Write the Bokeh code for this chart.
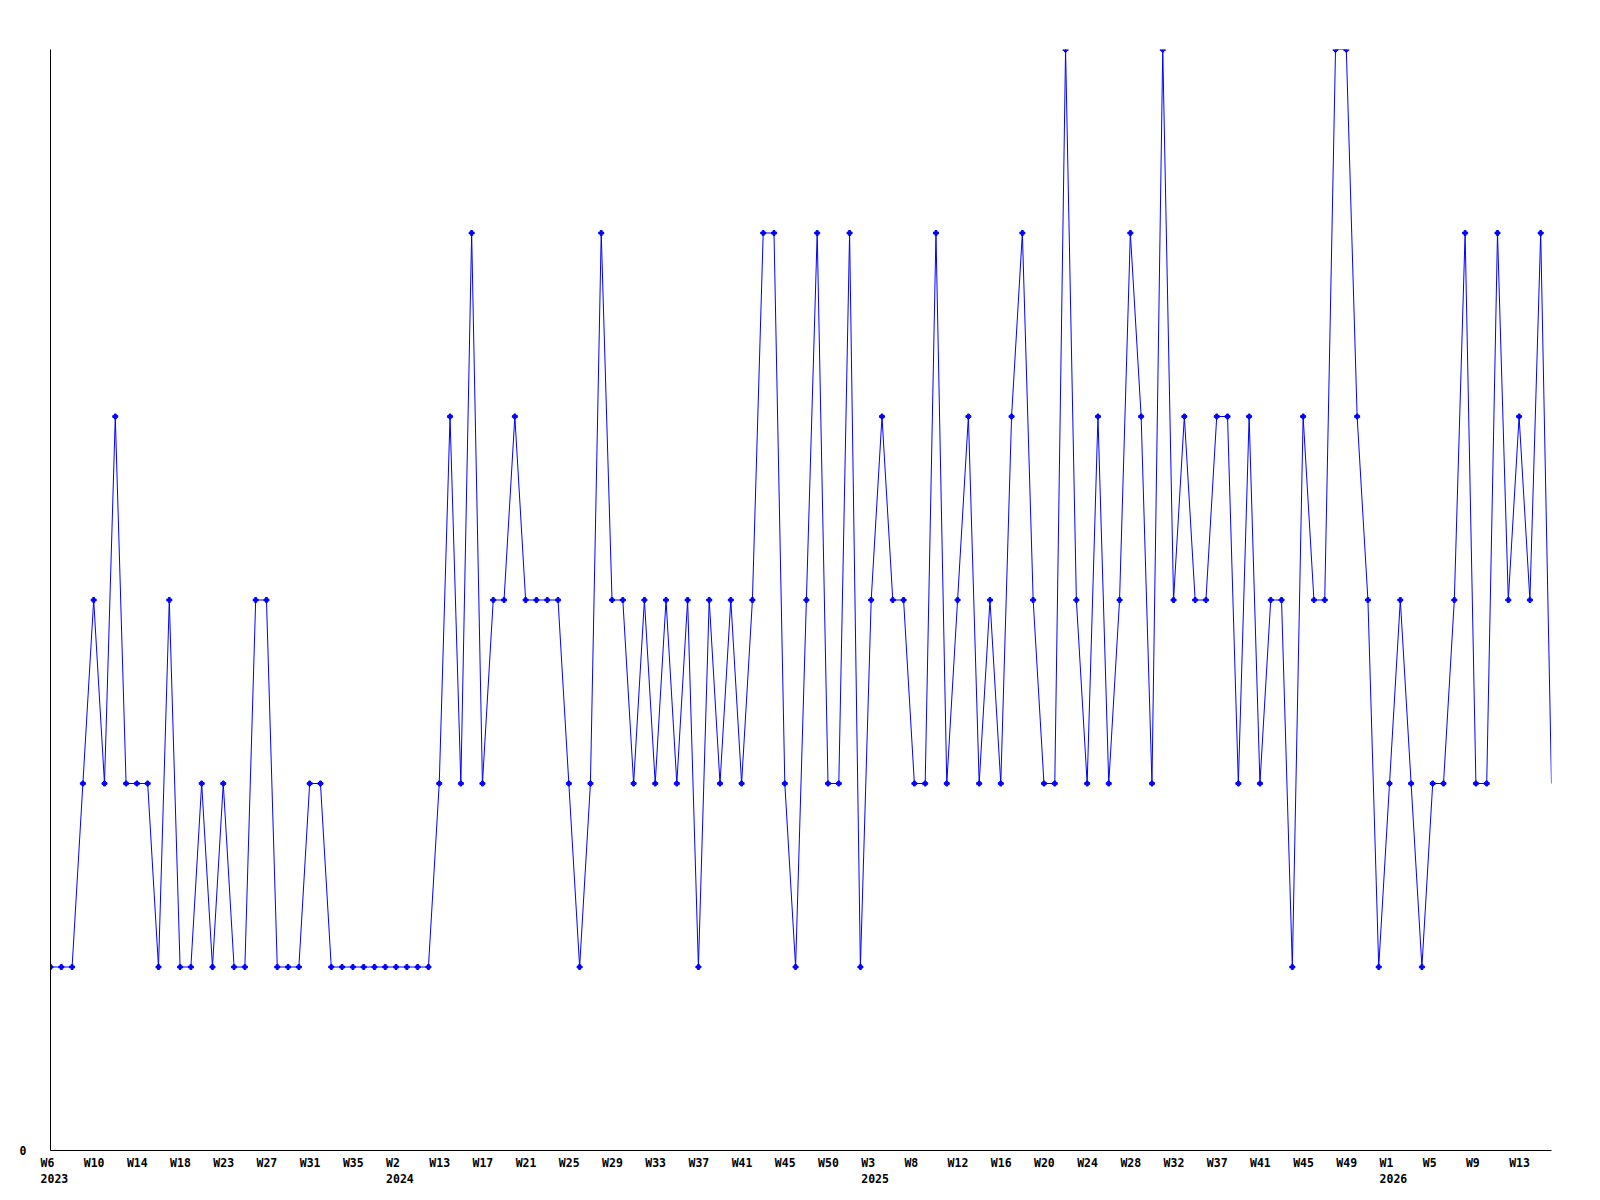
from bokeh.plotting import figure
from bokeh.models import Range1d, FixedTicker
from bokeh.embed import file_html
from bokeh.resources import INLINE

# weekly values (2023 W6 ... 2026 W16), 140 points
values = [
    1, 1, 1, 2, 3, 2, 4, 2, 2, 2,
    1, 3, 1, 1, 2, 1, 2, 1, 1, 3,
    3, 1, 1, 1, 2, 2, 1, 1, 1, 1,
    1, 1, 1, 1, 1, 1, 2, 4, 2, 5,
    2, 3, 3, 4, 3, 3, 3, 3, 2, 1,
    2, 5, 3, 3, 2, 3, 2, 3, 2, 3,
    1, 3, 2, 3, 2, 3, 5, 5, 2, 1,
    3, 5, 2, 2, 5, 1, 3, 4, 3, 3,
    2, 2, 5, 2, 3, 4, 2, 3, 2, 4,
    5, 3, 2, 2, 6, 3, 2, 4, 2, 3,
    5, 4, 2, 6, 3, 4, 3, 3, 4, 4,
    2, 4, 2, 3, 3, 1, 4, 3, 3, 6,
    6, 4, 3, 1, 2, 3, 2, 1, 2, 2,
    3, 5, 2, 2, 5, 3, 4, 3, 5, 2,
]

# tick labels, one every 4 points
tick_labels = [
    "W6", "W10", "W14", "W18", "W23", "W27", "W31", "W35", "W2", "W13",
    "W17", "W21", "W25", "W29", "W33", "W37", "W41", "W45", "W50", "W3",
    "W8", "W12", "W16", "W20", "W24", "W28", "W32", "W37", "W41", "W45",
    "W49", "W1", "W5", "W9", "W13",
]
year_labels = {0: "2023", 8: "2024", 19: "2025", 31: "2026"}

idx = list(range(len(values)))

NB = "\u00a0"
SHIFT = 0.36
ticks = []
overrides = {}
for k, lab in enumerate(tick_labels):
    t = round(k * 4 + SHIFT, 2)
    ticks.append(t)
    txt = lab + NB * (4 - len(lab))
    if k in year_labels:
        txt = txt + "\n" + year_labels[k]
    overrides[t] = txt

p = figure(
    frame_width=1501, frame_height=1101,
    min_border_left=50, min_border_top=49, min_border_right=25, min_border_bottom=45,
    x_range=Range1d(0, len(values) - 1), y_range=Range1d(0, 6),
    output_backend="svg", toolbar_location=None,
)
p.background_fill_color = "white"
p.border_fill_color = "white"
p.outline_line_color = None
p.xgrid.visible = False
p.ygrid.visible = False

p.line(idx, values, line_color="#0000ff", line_width=1)
p.scatter(idx[:-1], values[:-1], marker="plus", size=5, color="#0000ff")

xa = p.xaxis[0]
xa.ticker = FixedTicker(ticks=ticks)
xa.major_label_overrides = overrides
xa.major_tick_out = 0
xa.major_tick_in = 0
xa.minor_tick_out = 0
xa.minor_tick_in = 0
xa.major_label_standoff = 5
xa.axis_line_color = "black"

ya = p.yaxis[0]
ya.ticker = FixedTicker(ticks=[0])
ya.major_tick_out = 0
ya.major_tick_in = 0
ya.minor_tick_out = 0
ya.minor_tick_in = 0
ya.major_label_standoff = 24
ya.axis_line_color = "black"

for ax in (xa, ya):
    ax.major_label_text_font = "DejaVu Sans Mono"
    ax.major_label_text_font_style = "bold"
    ax.major_label_text_font_size = "11.5px"
    ax.major_label_text_color = "black"

open("out.html", "w").write(file_html(p, INLINE))
